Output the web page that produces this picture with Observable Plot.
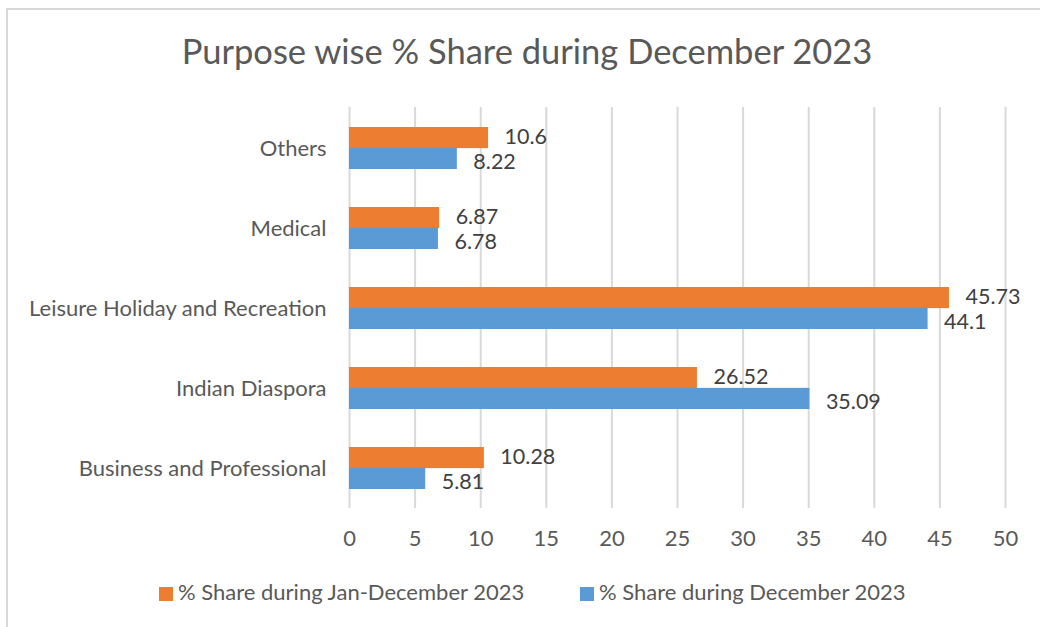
<!DOCTYPE html>
<html>
<head>
<meta charset="utf-8">
<script src="https://cdn.jsdelivr.net/npm/d3@7"></script>
<script src="https://cdn.jsdelivr.net/npm/@observablehq/plot@0.6"></script>
<style>
  body { margin: 0; background: #fff; font-family: Lato, "Open Sans", sans-serif; }
  #wrap { position: relative; width: 1040px; height: 627px; overflow: hidden; }
  #frame { position: absolute; left: 6px; top: 8px; width: 1100px; height: 700px; border: 2px solid #D9D9D9; box-sizing: border-box; }
  #title { position: absolute; left: 0; width: 1054px; top: 30px; line-height: 41px; text-align: center; font-size: 34.5px; color: #595959; }
  #chart { position: absolute; left: 0; top: 0; }
  .leg { position: absolute; top: 579px; font-size: 22px; color: #595959; white-space: nowrap; line-height: 26px; }
  .sw { display: inline-block; width: 14px; height: 14px; vertical-align: -1px; margin-right: 5px; }
</style>
</head>
<body>
<div id="wrap">
  <div id="frame"></div>
  <div id="title">Purpose wise % Share during December 2023</div>
  <div id="chart"></div>
  <div class="leg" id="leg1" style="left:159px"></div>
  <div class="leg" id="leg2" style="left:580px"></div>
</div>
<script>
const categories = ["Others", "Medical", "Leisure Holiday and Recreation", "Indian Diaspora", "Business and Professional"];
const seriesNames = ["% Share during Jan-December 2023", "% Share during December 2023"];
const janDec2023 = [10.6, 6.87, 45.73, 26.52, 10.28];
const dec2023 = [8.22, 6.78, 44.1, 35.09, 5.81];
const xTicks = [0, 5, 10, 15, 20, 25, 30, 35, 40, 45, 50];
const colors = ["#ED7D31", "#5B9BD5"];

const orange = categories.map((c, i) => ({category: c, value: janDec2023[i]}));
const blue = categories.map((c, i) => ({category: c, value: dec2023[i]}));

const H = 560;
const half = 41.7 / 2;
const chart = Plot.plot({
  width: 1040,
  height: H,
  marginLeft: 349,
  marginRight: 35,
  marginTop: 107,
  marginBottom: H - 508,
  style: { fontFamily: "Lato, 'Open Sans', sans-serif", fontSize: "22px", color: "#595959", background: "transparent" },
  x: { domain: [0, 50], ticks: xTicks, label: null },
  y: { domain: categories, paddingInner: 0.48, paddingOuter: 0.24, label: null },
  marks: [
    Plot.gridX(xTicks, { stroke: "#D9D9D9", strokeOpacity: 1, strokeWidth: 2 }),
    Plot.axisX({ ticks: xTicks, tickSize: 0, tickPadding: 22, fontSize: 22, fill: "#595959", label: null }),
    Plot.axisY({ tickSize: 0, tickPadding: 23, fontSize: 22, fill: "#595959", label: null }),
    Plot.barX(orange, { x: "value", y: "category", fill: colors[0], insetBottom: half }),
    Plot.barX(blue, { x: "value", y: "category", fill: colors[1], insetTop: half }),
    Plot.text(orange, { x: "value", y: "category", text: d => String(d.value), dx: 16, dy: -11.5, textAnchor: "start", fill: "#404040", fontSize: 21.5 }),
    Plot.text(blue, { x: "value", y: "category", text: d => String(d.value), dx: 16, dy: 13.5, textAnchor: "start", fill: "#404040", fontSize: 21.5 })
  ]
});
document.getElementById("chart").appendChild(chart);

document.getElementById("leg1").innerHTML = `<span class="sw" style="background:${colors[0]}"></span>${seriesNames[0]}`;
document.getElementById("leg2").innerHTML = `<span class="sw" style="background:${colors[1]}"></span>${seriesNames[1]}`;
</script>
</body>
</html>
